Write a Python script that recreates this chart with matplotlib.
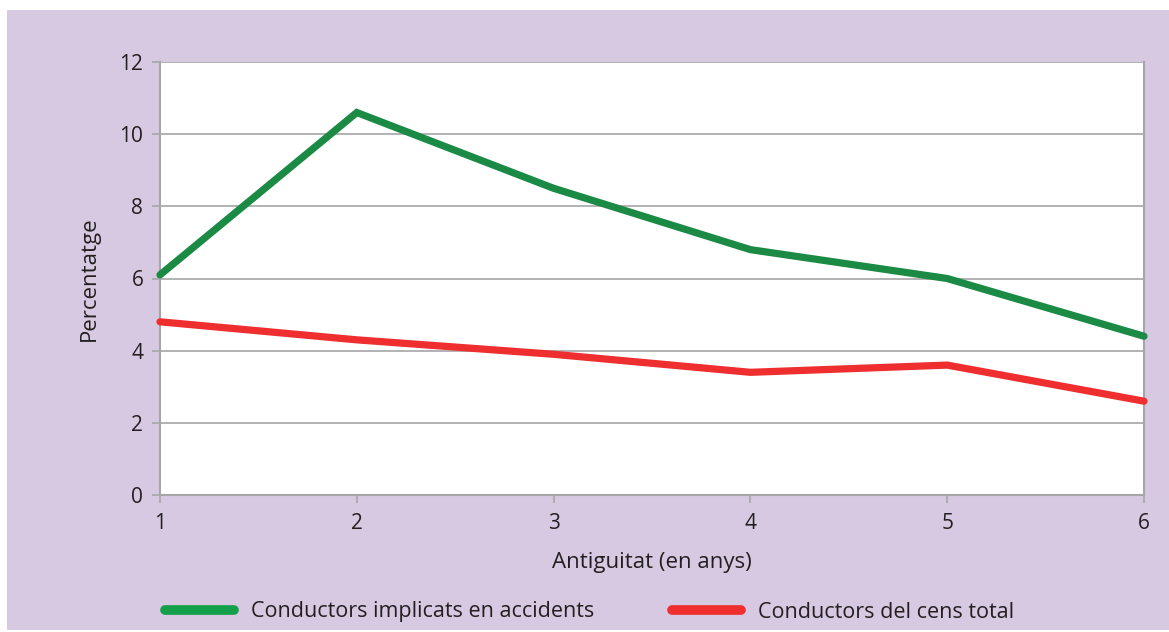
import matplotlib.pyplot as plt
from matplotlib.patches import Rectangle
from matplotlib.lines import Line2D

plt.rcParams['font.family'] = ['Open Sans', 'DejaVu Sans']

anys = [1, 2, 3, 4, 5, 6]
implicats = [6.1, 10.6, 8.5, 6.8, 6.0, 4.4]
cens_total = [4.8, 4.3, 3.9, 3.4, 3.6, 2.6]
etiquetes = ['Conductors implicats en accidents', 'Conductors del cens total']

verd = '#1b8a44'
vermell = '#ee2e2f'
lila = '#d8c9e2'
gris = '#a6a6a8'
text_col = '#231f20'

fig = plt.figure(figsize=(11.69, 6.32), dpi=100)
fig.patch.set_facecolor('white')
# fons lila amb una petita vora blanca
fig.add_artist(Rectangle((7 / 1169, 2 / 632), 1 - 7 / 1169, 1 - 12 / 632,
                         transform=fig.transFigure, facecolor=lila,
                         edgecolor='none', zorder=0))

ax = fig.add_axes([160 / 1169, 1 - 495 / 632, (1144 - 160) / 1169, (495 - 62) / 632])
ax.set_facecolor('white')

ax.plot(anys, implicats, color=verd, lw=5.2, solid_capstyle='round',
        solid_joinstyle='miter', clip_on=False, zorder=3)
ax.plot(anys, cens_total, color=vermell, lw=5.2, solid_capstyle='round',
        solid_joinstyle='miter', clip_on=False, zorder=3)

ax.set_xlim(1, 6)
ax.set_ylim(0, 12)
ax.set_xticks(anys)
ax.set_yticks(range(0, 13, 2))
ax.yaxis.grid(True, color=gris, lw=1.2)
ax.set_axisbelow(True)
for s in ['left', 'bottom', 'right']:
    ax.spines[s].set_color(gris)
    ax.spines[s].set_linewidth(1.5)
ax.spines['top'].set_visible(False)
ax.tick_params(colors=gris, labelcolor=text_col, labelsize=15, length=6, width=1.2)
ax.tick_params(axis='x', pad=7)
ax.tick_params(axis='y', pad=6)

ax.set_xlabel('Antiguitat (en anys)', fontsize=16, color=text_col, labelpad=13)
ax.set_ylabel('Percentatge', fontsize=16, color=text_col, labelpad=14)

handles = [Line2D([], [], color='#14a04a', lw=7, solid_capstyle='round'),
           Line2D([], [], color=vermell, lw=7, solid_capstyle='round')]
fig.legend(handles, etiquetes, loc='center left', bbox_to_anchor=(146 / 1169, 1 - 612 / 632),
           ncol=2, frameon=False, fontsize=15.5, labelcolor=text_col,
           handlelength=3.2, handletextpad=0.8, columnspacing=3.6)

fig.savefig('out.png', dpi=100, facecolor=fig.get_facecolor())
